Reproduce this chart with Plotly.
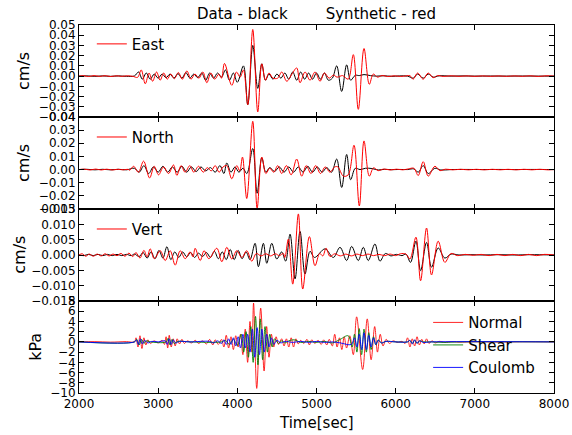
import plotly.graph_objects as go

# ---------------- data (time [s], value) ----------------
east_obs = [(2000,0),(2100,0.0002),(2200,-0.0002),(2300,0.0002),(2400,-0.0002),(2500,0.0002),(2600,-0.0002),(2700,0.0002),
    (2753,0.004),(2800,-0.003),(2850,0.003),(2900,-0.003),(2950,0.002),(3000,-0.002),(3050,0.002),(3100,-0.0015),(3150,0.002),
    (3200,-0.002),(3250,0.0025),(3300,-0.002),(3350,0.0035),(3400,-0.002),(3450,0.002),(3500,-0.0015),(3550,0.003),(3600,-0.004),
    (3650,0.003),(3700,-0.002),(3750,0.003),(3800,-0.001),(3850,0.006),(3900,-0.004),(3950,0.003),(4000,-0.006),(4077,0.01),
    (4132,-0.028),(4195,0.03),(4258,-0.012),(4309,0.012),(4355,-0.004),(4400,0.002),(4450,-0.003),(4500,0.002),(4550,-0.002),
    (4600,0.003),(4650,-0.003),(4700,0.004),(4750,-0.004),(4800,0.004),(4850,-0.003),(4900,0.003),(4950,-0.003),(5000,0.003),
    (5050,-0.003),(5100,0.003),(5150,-0.004),(5200,-0.002),(5255,0.01),(5318,-0.015),(5381,0.011),(5431,-0.004),(5490,0.0008),
    (5540,0.0005),(5600,0.0015),(5680,0.0005),(5760,0),(5850,0.0003),(5950,-0.0002),(6050,0.0002),(6150,0),(6222,-0.002),
    (6276,0.002),(6348,-0.002),(6411,0.002),(6474,-0.001),(6550,0.0003),(6700,0),(6850,0.0002),(7000,0),(7200,0.0001),
    (7400,0),(7600,0.0001),(7800,0),(8000,0)]

east_syn = [(2000,0),(2060,0.0004),(2120,-0.0004),(2190,0.0005),(2260,-0.0003),(2330,0.0004),(2400,-0.0004),(2470,0.0003),
    (2540,-0.0002),(2610,0.0003),(2680,-0.0002),(2740,-0.0012),(2786,0.006),(2837,-0.0075),(2885,0.003),(2930,-0.005),
    (2980,0.004),(3025,-0.004),(3070,0.003),(3115,-0.003),(3160,0.002),(3205,-0.0025),(3255,0.0035),(3305,-0.003),(3363,0.005),
    (3415,-0.003),(3465,0.002),(3515,-0.002),(3565,0.004),(3615,-0.0065),(3665,0.003),(3715,-0.003),(3765,0.002),(3800,-0.002),
    (3838,0.0124),(3930,-0.009),(3990,0.004),(4035,-0.001),(4077,0.006),(4132,-0.028),(4195,0.0456),(4258,-0.035),(4309,0.012),
    (4355,-0.004),(4400,0.003),(4450,-0.002),(4510,-0.002),(4561,0.004),(4624,-0.005),(4690,0.002),(4750,0.008),(4792,-0.0065),
    (4855,0.004),(4918,-0.004),(4981,0.004),(5045,-0.005),(5100,0.003),(5160,-0.002),(5213,0.001),(5260,-0.001),(5330,0.0005),
    (5400,-0.003),(5465,0.021),(5528,-0.0325),(5600,0.027),(5667,-0.008),(5717,0.002),(5770,-0.001),(5830,0.0006),
    (5900,-0.0004),(5980,0.0003),(6060,-0.0003),(6140,0.0003),(6180,0.0005),(6222,-0.003),(6276,0.003),(6348,-0.003),
    (6411,0.003),(6474,-0.0015),(6530,0.0005),(6600,-0.0003),(6700,0.0003),(6800,-0.0002),(6900,0.0002),(7000,-0.0002),
    (7100,0.0002),(7200,-0.0002),(7300,0.0002),(7400,-0.0002),(7500,0.0002),(7600,-0.0002),(7700,0.0003),(7800,-0.0003),
    (7900,0.0003),(8000,0)]

north_obs = [(2000,0),(2100,0.0002),(2200,-0.0002),(2300,0.0002),(2400,-0.0002),(2500,0.0002),(2600,-0.0002),
    (2700,0.001),(2760,-0.002),(2820,0.003),(2880,-0.003),(2940,0.002),(3000,-0.002),(3060,0.0025),(3120,-0.002),(3180,0.002),
    (3240,-0.002),(3300,0.0025),(3360,-0.002),(3420,0.002),(3480,-0.0015),(3540,0.002),(3600,-0.001),(3660,0.0015),
    (3720,-0.002),(3780,0.003),(3830,-0.003),(3867,0.005),(3920,-0.002),(3970,0.002),(4020,-0.002),(4070,0.001),(4120,-0.003),
    (4195,0.016),(4250,-0.018),(4309,0.009),(4360,-0.002),(4410,0.0015),(4470,-0.0015),(4530,0.002),(4590,-0.002),(4650,0.002),
    (4710,-0.002),(4770,0.002),(4830,-0.002),(4890,0.0025),(4950,-0.002),(5010,0.002),(5070,-0.002),(5130,0.0015),
    (5190,-0.002),(5255,0.008),(5318,-0.0136),(5381,0.0115),(5431,-0.0077),(5490,0.001),(5550,0),(5620,0.001),(5700,0.0008),
    (5780,-0.0003),(5860,0.0002),(5950,-0.0001),(6050,0.0001),(6150,0),(6230,0.0005),(6285,-0.002),(6348,0.003),
    (6411,-0.003),(6495,0.001),(6570,-0.0003),(6700,0),(6900,0.0001),(7100,0),(7300,0.0001),(7500,0),(7700,0.0001),(8000,0)]

north_syn = [(2000,0),(2070,0.0003),(2140,-0.0003),(2210,0.0004),(2280,-0.0003),(2350,0.0003),(2420,-0.0003),(2490,0.0002),
    (2560,-0.0002),(2620,0.0002),(2640,-0.0005),(2690,0.0025),(2750,-0.002),(2816,0.0064),(2892,-0.0064),(2950,0.0025),
    (3005,-0.004),(3068,0.002),(3131,-0.003),(3194,0.0035),(3236,-0.0044),(3290,0.003),(3340,-0.002),(3400,0.003),
    (3450,-0.002),(3510,0.0025),(3570,-0.002),(3620,0.0015),(3670,-0.001),(3720,0.003),(3770,-0.002),(3820,0.002),
    (3867,0.003),(3930,-0.007),(3993,0.003),(4030,-0.001),(4065,0.0095),(4119,-0.022),(4195,0.0367),(4250,-0.0295),
    (4309,0.0095),(4360,-0.003),(4410,0.001),(4460,-0.002),(4510,0.003),(4560,-0.003),(4620,0.003),(4680,-0.004),(4750,0.008),
    (4813,-0.005),(4870,0.003),(4930,-0.003),(4990,0.003),(5050,-0.003),(5110,0.002),(5170,-0.002),(5230,0.002),(5270,0.002),
    (5339,-0.005),(5400,-0.004),(5474,0.0185),(5541,-0.0277),(5600,0.0218),(5667,-0.005),(5720,0.0013),(5780,-0.0008),
    (5850,0.0004),(5930,-0.0003),(6010,0.0003),(6090,-0.0002),(6160,0.0005),(6230,0.001),(6285,-0.0045),(6348,0.006),
    (6411,-0.005),(6495,0.0025),(6560,-0.0008),(6630,0.0003),(6720,-0.0002),(6820,0.0002),(6920,-0.0002),(7020,0.0002),
    (7120,-0.0002),(7220,0.0002),(7320,-0.0002),(7420,0.0002),(7520,-0.0002),(7620,0.0002),(7720,-0.0002),(7820,0.0002),
    (7920,-0.0002),(8000,0)]

vert_obs = [(2000,0),(2060,-0.0002),(2120,0.0002),(2180,-0.0002),(2240,0.0002),(2300,-0.0002),(2360,0.0002),(2420,-0.0002),
    (2480,0.0002),(2540,-0.0002),(2600,0.0002),(2660,-0.0002),(2700,0.0003),(2760,-0.0005),(2810,0.0008),(2860,-0.001),
    (2910,0.001),(2960,-0.0012),(3010,0.0015),(3060,-0.001),(3110,0.0027),(3160,-0.0015),(3210,0.001),(3260,-0.0008),
    (3310,0.001),(3360,-0.0006),(3410,0.0008),(3460,-0.0008),(3510,0.0006),(3560,-0.0005),(3610,0.0008),(3660,-0.0008),
    (3710,0.0012),(3760,-0.0012),(3810,0.001),(3860,-0.0015),(3910,0.0018),(3960,-0.0015),(4010,0.0015),(4060,-0.0012),
    (4110,0.001),(4160,-0.0015),(4224,0.0038),(4266,-0.0038),(4329,0.0038),(4372,-0.0027),(4435,0.0038),(4498,-0.0013),
    (4560,0.001),(4610,-0.002),(4666,0.0068),(4729,-0.0078),(4792,0.0077),(4855,-0.0062),(4918,0.0012),(4975,-0.0008),
    (5108,0.002),(5213,-0.0008),(5297,0.0025),(5381,-0.0018),(5444,0.0028),(5528,-0.0018),(5591,0.0025),(5654,-0.0018),
    (5738,0.0036),(5801,-0.002),(5870,0.0005),(5940,-0.0003),(6010,0.0002),(6080,-0.0002),(6130,0.0003),(6188,-0.0024),
    (6256,0.0045),(6315,-0.0051),(6390,0.0041),(6453,-0.004),(6537,0.0023),(6621,-0.001),(6700,0.0003),(6800,0),
    (6950,0.0001),(7100,0),(7300,0.0001),(7500,0),(7700,0.0001),(8000,0)]

vert_syn = [(2000,0),(2040,0.0004),(2085,-0.0004),(2130,0.0003),(2180,-0.0004),(2230,0.0003),(2280,-0.0003),(2330,0.0004),
    (2380,-0.0003),(2430,0.0003),(2480,-0.0002),(2530,0.0005),(2580,-0.0004),(2630,0.0006),(2680,-0.0005),(2720,0.0008),
    (2770,-0.001),(2820,0.0015),(2860,-0.0006),(2900,0.002),(2950,-0.0012),(3026,0.0014),(3089,-0.0018),(3152,0.0014),
    (3215,-0.0033),(3278,0.0014),(3341,-0.0012),(3404,0.001),(3440,-0.0006),(3467,0.0022),(3531,-0.0018),(3580,0.0014),
    (3640,-0.0012),(3741,0.0022),(3804,-0.0022),(3867,0.0025),(3930,-0.0013),(3993,0.0014),(4056,-0.0008),(4119,0.0014),
    (4182,-0.002),(4240,0.0005),(4300,-0.0003),(4360,0.0004),(4420,-0.0003),(4480,0.0004),(4530,-0.0002),(4580,0.0005),
    (4600,-0.0008),(4645,0.0052),(4700,-0.0095),(4771,0.0134),(4826,-0.0111),(4910,0.006),(4981,-0.0035),(5040,0.0005),
    (5080,-0.0003),(5121,0.0022),(5171,-0.0005),(5230,0.0004),(5300,-0.0003),(5370,0.0003),(5440,-0.0003),(5510,0.0003),
    (5580,-0.0002),(5650,0.0003),(5720,-0.0002),(5790,0.0002),(5860,-0.0002),(5930,0.0003),(6000,-0.0002),(6060,0.0004),
    (6130,0.0003),(6180,-0.0013),(6256,0.0058),(6315,-0.0084),(6390,0.0088),(6453,-0.0065),(6537,0.0045),(6621,-0.0024),
    (6700,0.0005),(6780,-0.0002),(6880,0.0002),(6980,-0.0001),(7080,0.0002),(7180,-0.0002),(7280,0.0002),(7380,-0.0002),
    (7480,0.0002),(7580,-0.0002),(7680,0.0002),(7780,-0.0002),(7880,0.0002),(8000,0)]

normal = [(2000,0),(2200,0.05),(2400,-0.05),(2600,0.05),(2700,0),(2720,0.8),(2745,-1.0),(2770,1.2),(2795,-1.3),(2820,0.8),
    (2845,-0.6),(2870,0.4),(2900,-0.3),(2950,0.2),(3000,-0.2),(3050,0.3),(3080,-0.5),(3100,1.0),(3120,-1.2),(3140,1.3),
    (3165,-1.0),(3190,0.6),(3215,-0.8),(3240,0.6),(3270,-0.4),(3300,0.5),(3330,-0.3),(3370,0.2),(3420,-0.2),(3470,0.3),
    (3510,-0.3),(3560,0.2),(3610,-0.4),(3650,0.5),(3690,-0.6),(3720,0.4),(3760,-0.5),(3800,0.5),(3830,-1.0),(3860,1.3),
    (3890,-1.2),(3920,1.0),(3950,-1.5),(3980,1.2),(4010,-1.0),(4040,1.5),(4070,-2.5),(4100,2.5),(4130,-4.0),(4160,4.0),
    (4185,-2.0),(4205,7.6),(4245,-9.1),(4295,6.6),(4338,-5.7),(4370,3.0),(4400,-3.0),(4430,1.5),(4460,-1.0),(4490,1.0),
    (4520,-0.5),(4560,0.6),(4590,-0.8),(4620,0.6),(4650,-1.0),(4680,0.8),(4710,-1.0),(4740,0.6),(4770,-0.4),(4800,0.3),
    (4840,-0.3),(4880,0.5),(4910,-0.6),(4940,0.4),(4980,-0.3),(5020,0.3),(5060,-0.5),(5090,0.4),(5130,-0.6),(5160,0.5),
    (5200,-0.8),(5230,1.5),(5260,-1.0),(5290,0.8),(5320,-1.5),(5350,1.0),(5380,-1.2),(5420,1.2),(5465,-2.5),(5507,4.9),
    (5583,-5.4),(5641,4.5),(5690,-3.5),(5735,3.0),(5770,-2.0),(5805,1.5),(5840,-0.8),(5880,0.5),(5920,-0.3),(5970,0.2),
    (6020,-0.1),(6080,0.1),(6120,-0.3),(6150,0.8),(6180,-1.0),(6210,0.6),(6240,-0.8),(6270,1.0),(6300,-0.6),(6330,0.5),
    (6360,-0.4),(6390,0.6),(6420,-0.3),(6460,0.2),(6500,-0.2),(6550,0.1),(6620,-0.1),(6700,0.05),(6800,-0.05),(7000,0.03),
    (7300,-0.03),(7600,0.03),(8000,0)]

shear = [(2000,0),(2700,0),(2730,0.5),(2760,-0.6),(2790,0.5),(2820,-0.3),(2850,0.2),(2900,0),(3100,0),(3125,0.7),
    (3150,-0.6),(3175,0.5),(3200,-0.3),(3250,0.1),(3400,0),(3800,0),(3850,0.3),(3900,-0.5),(3950,0.5),(4000,-0.7),(4050,1.5),
    (4080,-2.0),(4110,2.0),(4140,-3.0),(4170,3.0),(4200,-4.0),(4230,5.0),(4260,-4.5),(4290,4.5),(4320,-3.5),(4350,3.0),
    (4380,-2.0),(4410,1.5),(4440,-1.0),(4470,0.6),(4520,-0.3),(4560,0.2),(4600,-0.2),(4650,0.2),(4720,0.4),(4800,-0.1),
    (4900,0.1),(5000,-0.1),(5100,0.1),(5200,-0.2),(5300,0.5),(5400,1.2),(5450,-1.0),(5480,1.5),(5510,-2.0),(5540,2.6),
    (5570,-2.5),(5600,2.5),(5630,-2.0),(5660,1.8),(5690,-1.5),(5720,1.0),(5750,-0.6),(5780,0.4),(5820,-0.2),(5880,0.1),
    (6000,0),(6150,0),(6180,0.3),(6210,-0.3),(6240,0.3),(6270,-0.3),(6300,0.2),(6350,0),(6450,0),(6600,-0.1),(6800,0),(8000,0)]

coulomb = [(2000,0),(2700,0),(2725,0.4),(2750,-0.5),(2775,0.6),(2800,-0.4),(2830,0.3),(2870,-0.2),(2920,0.1),(3000,0),
    (3090,0.2),(3115,-0.5),(3140,0.6),(3165,-0.5),(3190,0.4),(3220,-0.2),(3270,0.1),(3400,0),(3650,0.1),(3700,-0.2),
    (3750,0.2),(3800,-0.3),(3830,0.4),(3860,-0.5),(3890,0.6),(3920,-0.5),(3950,0.8),(3980,-0.8),(4010,1.0),(4040,-1.2),
    (4070,1.5),(4100,-1.2),(4130,1.5),(4160,-2.0),(4190,2.5),(4220,-3.0),(4250,2.8),(4280,-2.5),(4310,2.5),(4340,-2.0),
    (4370,1.5),(4400,-1.0),(4430,0.8),(4460,-0.5),(4500,0.3),(4550,-0.2),(4600,0.1),(4700,-0.1),(4800,0.1),(4900,-0.1),
    (5000,0.1),(5100,-0.1),(5200,0),(5300,-0.2),(5440,-0.5),(5480,0.8),(5510,-1.0),(5540,1.5),(5570,-1.5),(5600,1.8),
    (5630,-1.5),(5660,1.3),(5690,-1.0),(5720,0.8),(5750,-0.5),(5780,0.3),(5820,-0.2),(5880,0.1),(6000,0),(6150,0),
    (6180,0.3),(6210,-0.4),(6240,0.4),(6270,-0.3),(6300,0.2),(6350,-0.1),(6450,0),(8000,0)]

x_ticks = [2000, 3000, 4000, 5000, 6000, 7000, 8000]
y1_ticks = [-0.04, -0.03, -0.02, -0.01, 0.0, 0.01, 0.02, 0.03, 0.04, 0.05]
y2_ticks = [-0.03, -0.02, -0.01, 0.0, 0.01, 0.02, 0.03, 0.04]
y3_ticks = [-0.015, -0.010, -0.005, 0.0, 0.005, 0.010, 0.015]
y4_ticks = [-10, -8, -6, -4, -2, 0, 2, 4, 6, 8]
panel_names = ["East", "North", "Vert"]
stress_names = ["Normal", "Shear", "Coulomb"]

# ---------------- figure ----------------
FONT = "DejaVu Sans"
fig = go.Figure()

def xy(pairs):
    return [p[0] for p in pairs], [p[1] for p in pairs]

comp = [(east_obs, east_syn), (north_obs, north_syn), (vert_obs, vert_syn)]
for i, (obs, syn) in enumerate(comp):
    ax = "" if i == 0 else str(i + 1)
    t, v = xy(obs)
    fig.add_trace(go.Scatter(x=t, y=v, mode="lines", line=dict(color="black", width=1, shape="spline", smoothing=1),
                             xaxis="x" + ax, yaxis="y" + ax, showlegend=False, hoverinfo="skip"))
    t, v = xy(syn)
    fig.add_trace(go.Scatter(x=t, y=v, mode="lines", name=panel_names[i],
                             line=dict(color="red", width=1, shape="spline", smoothing=1),
                             xaxis="x" + ax, yaxis="y" + ax, legend="legend" + ax, hoverinfo="skip"))

stress_cols = ["rgba(255,0,0,0.85)", "rgba(0,128,0,0.9)", "rgba(0,0,255,0.9)"]
for name, data, col in zip(stress_names, [normal, shear, coulomb], stress_cols):
    t, v = xy(data)
    fig.add_trace(go.Scatter(x=t, y=v, mode="lines", name=name,
                             line=dict(color=col, width=1, shape="spline", smoothing=1),
                             xaxis="x4", yaxis="y4", legend="legend4", hoverinfo="skip"))

doms = [[0.75, 1.0], [0.5, 0.75], [0.25, 0.5], [0.0, 0.25]]
yranges = [[-0.04, 0.05], [-0.03, 0.04], [-0.015, 0.015], [-10, 8]]
yticks = [y1_ticks, y2_ticks, y3_ticks, y4_ticks]
yfmt = [".2f", ".2f", ".3f", "d"]

axis_common = dict(showline=True, linecolor="black", linewidth=1, mirror="ticks", ticks="inside",
                   ticklen=5, tickcolor="black", tickwidth=1, showgrid=False, zeroline=False,
                   automargin=False, tickfont=dict(family=FONT, size=12, color="black"))
lay = {}
for i in range(4):
    s = "" if i == 0 else str(i + 1)
    lay["xaxis" + s] = dict(axis_common, domain=[0, 1], anchor="y" + s, range=[2000, 8000],
                            tickmode="array", tickvals=x_ticks, showticklabels=(i == 3),
                            **({} if i == 0 else {"matches": "x"}))
    lay["yaxis" + s] = dict(axis_common, domain=doms[i], anchor="x" + s, range=yranges[i],
                            tickmode="array", tickvals=yticks[i], tickformat=yfmt[i])

leg_common = dict(bgcolor="rgba(0,0,0,0)", borderwidth=0, font=dict(family=FONT, size=15, color="black"),
                  xanchor="left", yanchor="middle", tracegroupgap=0)
lay["legend"] = dict(leg_common, x=0.027, y=0.948)
lay["legend2"] = dict(leg_common, x=0.027, y=0.695)
lay["legend3"] = dict(leg_common, x=0.027, y=0.445)
lay["legend4"] = dict(leg_common, x=0.735, y=0.13, yanchor="middle")

ann = [
    dict(text="Data - black        Synthetic - red", x=0.5, y=1.03, xref="paper", yref="paper",
         showarrow=False, font=dict(family=FONT, size=15, color="black"), xanchor="center", yanchor="middle"),
    dict(text="Time[sec]", x=0.5, y=-0.082, xref="paper", yref="paper", showarrow=False,
         font=dict(family=FONT, size=15, color="black"), xanchor="center", yanchor="middle"),
]
ylab = [("cm/s", -0.118), ("cm/s", -0.118), ("cm/s", -0.127), ("kPa", -0.093)]
for (txt, xp), d in zip(ylab, doms):
    ann.append(dict(text=txt, x=xp, y=(d[0] + d[1]) / 2, xref="paper", yref="paper", showarrow=False,
                    textangle=-90, font=dict(family=FONT, size=16, color="black"),
                    xanchor="center", yanchor="middle"))

fig.update_layout(width=572, height=435, margin=dict(l=79, r=18, t=25, b=42, autoexpand=False),
                  paper_bgcolor="white", plot_bgcolor="white", annotations=ann,
                  font=dict(family=FONT), **lay)
# drop the browser's default 8 px body margin so the figure fills the window exactly
fig.write_html("out.html", config={"displayModeBar": False},
               post_script="document.body.style.margin='0';")
